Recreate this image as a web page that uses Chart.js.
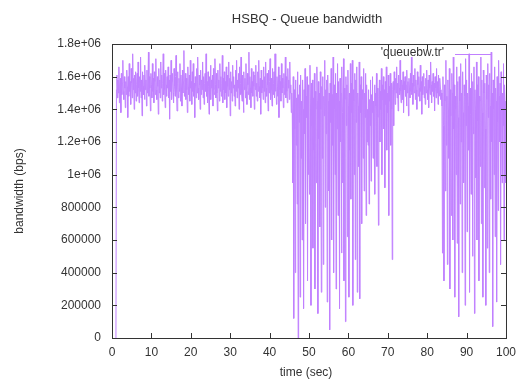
<!DOCTYPE html>
<html>
<head>
<meta charset="utf-8">
<title>HSBQ - Queue bandwidth</title>
<script src="https://cdn.jsdelivr.net/npm/chart.js@4.4.1/dist/chart.umd.min.js"></script>
<style>
  html, body { margin: 0; padding: 0; background: #fff; }
  canvas { display: block; }
</style>
</head>
<body>
<canvas id="queueChart" width="523" height="380"></canvas>
<script>
// sampling grid of queuebw.tr (seconds)
const startTime = 1.0;
const sampleStep = 0.125;

// bandwidth samples in units of 10 kbps, one list per phase
const bwStart = [0];
const bwSteady1 = [
  152,161,147,158,150,166,144,155,159,138,162,149,156,170,151,146,160,153,141,157,
  149,164,154,135,160,148,168,151,157,143,165,156,147,174,152,159,140,161,150,163,
  145,155,162,148,169,153,144,160,151,172,147,158,136,163,154,149,161,146,167,152,
  158,142,164,150,156,175,148,160,153,139,162,155,147,168,151,159,144,163,157,149,
  171,152,146,160,154,137,165,150,158,147,169,153,161,145,156,174,149,162,152,141,
  164,155,148,160,153,166,147,158,134,161,151,170,146,157,162,150,144,165,154,148,
  160,173,152,139,163,156,147,159,151,168,145,161,153,142,164,150,157,176,148,155,
  162,146,159,152,138,166,154,149,161,145,170,153,157,143,163,151,168,148,156,135,
  160,154,147,165,150,172,153,146,161,155,140,164,149,158,152,169,147,160,143,156,
  162,151,174,148,157,144,163,154,137,160,150,167,146,158,153,161,142,165,152,149,
  171,155,147,162,150,139,164,153,158,145,168,151,160,148,156,173,144,159,152,163,
  146,157,150,166,141,161,154,148,169,152,159,136,163,150,157,145,167,153,160,148,
  155,142,164,151,170,147,158,153,162,140,166,149,156,172,150,145,161,154,138,163,
  152,159,147,168,151,143,162,155,149,175,146,160,153,141,165,150,157,148,163,154,
  140,161,152,167,148,156,145,163,151,170,154,147,159,137,164,150,158,153,146,166,
  151,160,144,169,153,148,162,155,139,164,150,157,171,146,159,152,142,165,149,156,
  163,147,174,151,158,143,160,154,148,166,135,161,152,157,145,168,150,159,153,141,
  162,149,156,172,147,160,151,144,165,153,158,146,169,150,155,138
];
const bwBurst1 = [
  150,138,95,160,12,152,128,40,158,118,147,82,163,0,
  149,132,155,25,161,110,145,60,158,140,18,152,125,165,
  70,148,135,160,35,155,100,150,88,167,142,20,156,130,
  158,55,147,115,162,30,151,140,95,166,145,15,157,122,
  150,68,163,140,28,154,110,160,45,148,136,170,80,152,
  125,158,22,161,145,90,150,5,156,132,165,60,149,118,
  172,40,155,140,100,162,30,150,128,168,75,157,145,18,
  159,120,150,52,166,138,95,171,35,153,146,10,160,130,
  155,62,164,142,25,150,115,168,85,156,138,170,20,152,
  145,100,162,48,158,132,166,28,150,142,105,169,24,155,
  138,160,70,152,146,110,165,90,150,135,162,75,155,120
];
const bwSteady2 = [
  140,118,152,82,146,130,158,96,149,138,160,110,145,125,155,
  88,150,142,162,105,153,135,69,148,158,120,151,140,165,100,
  155,146,160,128,152,92,157,143,166,115,150,138,161,75,154,
  145,162,118,156,140,48,152,157,130,163,152,143,159,150,166,
  147,156,139,161,153,149,170,151,144,158,155,146,163,138,157,
  152,160,148,155,142,164,150,157,136,159,153,147,162,151,172,
  149,156,143,161,154,150,165,146,158,152,140,163,155,148,160,
  153,145,167,151,157,137,160,149,155,162,147,154,143,159,150,
  164,152,146,158,141,161,153,149,169,155,144,157,151,162,148,
  156,139,160,153,147,165,150,157,143,161,154,148,159,152,146
];
const bwBurst2 = [
  150,142,52,160,130,35,155,145,90,170,118,148,
  45,158,140,110,165,30,152,136,75,162,150,60,
  172,128,155,25,148,140,100,166,58,157,135,13,
  160,145,82,168,120,150,40,163,138,95,155,148,
  20,171,130,158,65,150,142,115,174,28,153,137,
  88,162,148,50,157,125,166,15,152,140,98,169,
  60,155,133,160,35,148,145,105,172,70,158,138,
  25,164,150,92,156,128,20,161,146,55,168,135,
  155,40,162,142,85,175,120,150,7,158,140,100,
  166,62,153,145,22,160,132,78,170,148,120,156,
  45,163,140,95,150,130,168,60,155,145,115,95
];

// axis ticks as gnuplot prints them
const xTicks = [0, 10, 20, 30, 40, 50, 60, 70, 80, 90, 100];
const yTickValues = [0, 200000, 400000, 600000, 800000, 1000000, 1200000, 1400000, 1600000, 1800000];
const yTickLabels = ['0', '200000', '400000', '600000', '800000', '1e+06', '1.2e+06', '1.4e+06', '1.6e+06', '1.8e+06'];

const bwSamples = bwStart.concat(bwSteady1, bwBurst1, bwSteady2, bwBurst2);
const points = bwSamples.map((v, i) => ({ x: startTime + i * sampleStep, y: v * 10000 }));

const LINE_COLOR = '#c080ff';
const FRAME_COLOR = '#333333';
const FONT = '"Liberation Sans", Arial, sans-serif';

// gnuplot look: closed border, ticks pointing inward on all four sides,
// title, axis labels and the key drawn by hand
const gnuplotFrame = {
  id: 'gnuplotFrame',
  afterDatasetsDraw(chart) {
    const { ctx, chartArea: a, scales: { x, y } } = chart;
    ctx.save();
    ctx.strokeStyle = FRAME_COLOR;
    ctx.lineWidth = 1;
    ctx.strokeRect(a.left + 0.5, a.top + 0.5, a.right - a.left, a.bottom - a.top);

    ctx.beginPath();
    xTicks.forEach(t => {
      const px = Math.round(x.getPixelForValue(t)) + 0.5;
      ctx.moveTo(px, a.bottom); ctx.lineTo(px, a.bottom - 5);
      ctx.moveTo(px, a.top); ctx.lineTo(px, a.top + 5);
    });
    yTickValues.forEach(t => {
      const py = Math.round(y.getPixelForValue(t)) + 0.5;
      ctx.moveTo(a.left, py); ctx.lineTo(a.left + 5, py);
      ctx.moveTo(a.right, py); ctx.lineTo(a.right - 5, py);
    });
    ctx.stroke();

    ctx.fillStyle = '#333';
    ctx.textAlign = 'center';
    ctx.textBaseline = 'middle';
    ctx.font = '13px ' + FONT;
    ctx.fillText('HSBQ - Queue bandwidth', 307, 19);
    ctx.font = '12px ' + FONT;
    ctx.fillText('time (sec)', 306, 373);

    ctx.save();
    ctx.translate(20, 191);
    ctx.rotate(-Math.PI / 2);
    ctx.fillText('bandwidth (bps)', 0, 0);
    ctx.restore();

    // key
    ctx.textAlign = 'right';
    ctx.fillText("'queuebw.tr'", 444, 53);
    ctx.strokeStyle = LINE_COLOR;
    ctx.beginPath();
    ctx.moveTo(455, 54.5);
    ctx.lineTo(491, 54.5);
    ctx.stroke();
    ctx.restore();
  }
};

document.addEventListener('DOMContentLoaded', function() {
  const ctx = document.getElementById('queueChart').getContext('2d');
  new Chart(ctx, {
    type: 'line',
    data: {
      datasets: [{
        label: "'queuebw.tr'",
        data: points,
        borderColor: LINE_COLOR,
        borderWidth: 1,
        pointRadius: 0,
        tension: 0,
        fill: false
      }]
    },
    options: {
      responsive: false,
      animation: false,
      devicePixelRatio: 1,
      layout: { padding: { top: 44, right: 16, left: 0, bottom: 0 } },
      plugins: {
        legend: { display: false },
        title: { display: false },
        tooltip: { enabled: false }
      },
      scales: {
        x: {
          type: 'linear',
          min: 0,
          max: 100,
          afterFit: s => { s.height = 42; },
          afterBuildTicks: s => { s.ticks = xTicks.map(v => ({ value: v })); },
          grid: { display: false, drawTicks: false },
          border: { display: false },
          ticks: {
            padding: 7,
            color: '#333',
            font: { family: FONT, size: 12 },
            maxRotation: 0,
            callback: v => String(v)
          }
        },
        y: {
          type: 'linear',
          min: 0,
          max: 1800000,
          afterFit: s => { s.width = 112; },
          afterBuildTicks: s => { s.ticks = yTickValues.map(v => ({ value: v })); },
          grid: { display: false, drawTicks: false },
          border: { display: false },
          ticks: {
            padding: 11,
            color: '#333',
            font: { family: FONT, size: 12 },
            callback: v => yTickLabels[yTickValues.indexOf(v)]
          }
        }
      }
    },
    plugins: [gnuplotFrame]
  });
});
</script>
</body>
</html>
